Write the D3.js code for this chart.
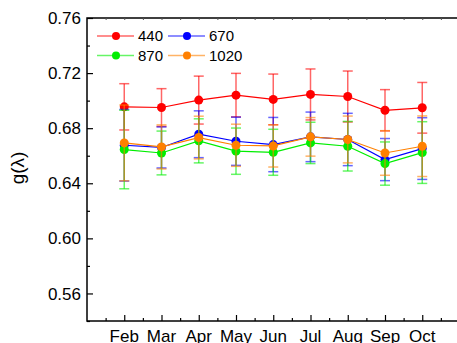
<!DOCTYPE html>
<html>
<head>
<meta charset="utf-8">
<script src="https://cdn.jsdelivr.net/npm/d3@7/dist/d3.min.js"></script>
<style>
  body { margin: 0; background: #fff; }
  svg { display: block; font-family: "Liberation Sans", Arial, sans-serif; }
</style>
</head>
<body>
<div class="chart"></div>
<script>
const months = ['Feb', 'Mar', 'Apr', 'May', 'Jun', 'Jul', 'Aug', 'Sep', 'Oct'];
const g440 = [0.6955, 0.6950, 0.7004, 0.7040, 0.7009, 0.7045, 0.7030, 0.6930, 0.6948];
const e440 = [0.0168, 0.0137, 0.0174, 0.0158, 0.0184, 0.0185, 0.0185, 0.0150, 0.0184];
const g670 = [0.6676, 0.6660, 0.6756, 0.6705, 0.6681, 0.6737, 0.6718, 0.6572, 0.6652];
const e670 = [0.0260, 0.0149, 0.0170, 0.0175, 0.0197, 0.0180, 0.0190, 0.0153, 0.0224];
const g870 = [0.6645, 0.6620, 0.6708, 0.6633, 0.6625, 0.6693, 0.6669, 0.6543, 0.6623];
const e870 = [0.0285, 0.0159, 0.0160, 0.0168, 0.0167, 0.0150, 0.0180, 0.0157, 0.0224];
const g1020 = [0.6693, 0.6664, 0.6732, 0.6676, 0.6671, 0.6737, 0.6718, 0.6620, 0.6669];
const e1020 = [0.0275, 0.0160, 0.0155, 0.0153, 0.0153, 0.0140, 0.0170, 0.0162, 0.0220];
const yTicks = [0.56, 0.60, 0.64, 0.68, 0.72, 0.76];

const series = [
  { name: '440', values: g440, errs: e440, color: '#ff0000' },
  { name: '670', values: g670, errs: e670, color: '#0000ff' },
  { name: '870', values: g870, errs: e870, color: '#00ee00' },
  { name: '1020', values: g1020, errs: e1020, color: '#ff8000' }
];

const width = 457, height = 343;
const pLeft = 87, pTop = 18, pBottom = 321, pRight = 459.5;

const svg = d3.select('.chart').append('svg')
  .attr('width', width).attr('height', height);

const x = d3.scaleLinear().domain([0, 10]).range([pLeft, pRight]);
const y = d3.scaleLinear().domain([0.54, 0.76]).range([pBottom, pTop]);

// frame
svg.append('rect')
  .attr('x', pLeft).attr('y', pTop)
  .attr('width', pRight - pLeft).attr('height', pBottom - pTop)
  .attr('fill', 'none').attr('stroke', '#000').attr('stroke-width', 1.5);

// left axis (ticks point inward)
const yMinor = d3.range(0.54, 0.7601, 0.02).filter(v => !yTicks.some(t => Math.abs(t - v) < 1e-6));
const yAxis = svg.append('g').attr('transform', `translate(${pLeft},0)`);
yAxis.append('g')
  .call(d3.axisRight(y).tickValues(yTicks).tickSize(6).tickFormat(''))
  .call(g => g.select('.domain').remove());
yAxis.append('g')
  .call(d3.axisRight(y).tickValues(yMinor).tickSize(3).tickFormat(''))
  .call(g => g.select('.domain').remove());
yAxis.selectAll('line').attr('stroke-width', 1.2);
yAxis.append('g').selectAll('text')
  .data(yTicks).enter().append('text')
  .attr('x', -6).attr('y', d => y(d)).attr('dy', '0.36em')
  .attr('text-anchor', 'end').attr('font-size', 17)
  .text(d3.format('.2f'));

// bottom / top axes
const xMajor = d3.range(1, months.length + 1);
const xMinor = d3.range(0.5, 10, 1);
const xAxis = svg.append('g').attr('transform', `translate(0,${pBottom})`);
xAxis.append('g')
  .call(d3.axisTop(x).tickValues(xMajor).tickSize(6).tickFormat(''))
  .call(g => g.select('.domain').remove());
xAxis.append('g')
  .call(d3.axisTop(x).tickValues(xMinor).tickSize(3).tickFormat(''))
  .call(g => g.select('.domain').remove());
xAxis.selectAll('line').attr('stroke-width', 1.2);
xAxis.append('g').selectAll('text')
  .data(months).enter().append('text')
  .attr('x', (d, i) => x(i + 1)).attr('y', 20.5)
  .attr('text-anchor', 'middle').attr('font-size', 17)
  .text(d => d);

svg.append('g').attr('transform', `translate(0,${pTop})`)
  .call(d3.axisBottom(x).tickValues(xMinor.concat(xMajor)).tickSize(2).tickFormat(''))
  .call(g => g.select('.domain').remove())
  .selectAll('line').attr('stroke', '#555');

// y title
svg.append('text')
  .attr('transform', 'translate(24,168) rotate(-90)')
  .attr('text-anchor', 'middle').attr('font-size', 19)
  .text('g(λ)');

// data
const line = d3.line().x((d, i) => x(i + 1)).y(d => y(d));
series.forEach(s => {
  const g = svg.append('g');
  const eb = g.append('g').attr('stroke', s.color).attr('stroke-opacity', 0.6).attr('stroke-width', 1.5);
  s.values.forEach((v, i) => {
    const cx = x(i + 1), y0 = y(v - s.errs[i]), y1 = y(v + s.errs[i]);
    eb.append('line').attr('x1', cx).attr('x2', cx).attr('y1', y0).attr('y2', y1);
    eb.append('line').attr('x1', cx - 5).attr('x2', cx + 5).attr('y1', y0).attr('y2', y0);
    eb.append('line').attr('x1', cx - 5).attr('x2', cx + 5).attr('y1', y1).attr('y2', y1);
  });
  g.append('path').datum(s.values)
    .attr('d', line).attr('fill', 'none')
    .attr('stroke', s.color).attr('stroke-width', 1.2);
  g.selectAll('circle').data(s.values).enter().append('circle')
    .attr('cx', (d, i) => x(i + 1)).attr('cy', d => y(d))
    .attr('r', 4.5).attr('fill', s.color);
});

// legend
const legend = svg.append('g');
series.forEach((s, i) => {
  const lx = 97 + (i % 2) * 71, ly = 36 + Math.floor(i / 2) * 19.5;
  const item = legend.append('g').attr('transform', `translate(${lx},${ly})`);
  item.append('line').attr('x1', 0).attr('x2', 37).attr('y1', 0).attr('y2', 0)
    .attr('stroke', s.color).attr('stroke-opacity', 0.6).attr('stroke-width', 1.5);
  item.append('circle').attr('cx', 19).attr('cy', 0).attr('r', 4).attr('fill', s.color);
  item.append('text').attr('x', 41).attr('y', 0).attr('dy', '0.36em')
    .attr('font-size', 15).text(s.name);
});
</script>
</body>
</html>
